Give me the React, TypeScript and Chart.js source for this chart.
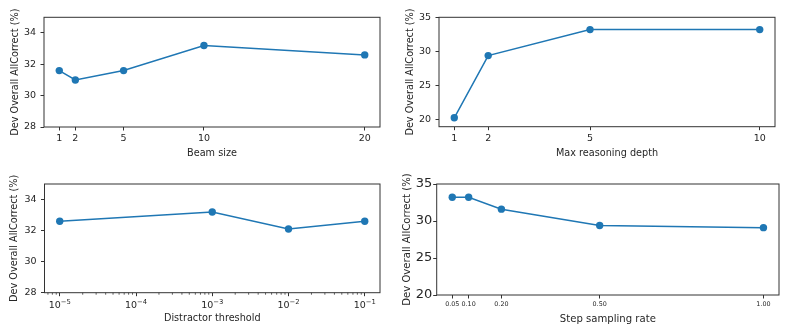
import React, { useEffect, useRef } from 'react';
import { Chart, registerables } from 'chart.js';

Chart.register(...registerables);

// ---- data ----
const beamSizes = [1, 2, 5, 10, 20];
const beamAcc = [31.6, 31.0, 31.6, 33.2, 32.6];

const depthValues = [1, 2, 5, 10];
const depthAcc = [20.3, 29.4, 33.2, 33.2];

const thresholdValues = [1e-5, 1e-3, 1e-2, 1e-1];
const thresholdAcc = [32.6, 33.2, 32.1, 32.6];

const rateValues = [0.05, 0.1, 0.2, 0.5, 1.0];
const rateAcc = [33.2, 33.2, 31.6, 29.4, 29.1];

// ---- tick labels ----
const beamTicks = [1, 2, 5, 10, 20];
const beamTickLabels = ['1', '2', '5', '10', '20'];
const depthTicks = [1, 2, 5, 10];
const depthTickLabels = ['1', '2', '5', '10'];
const thresholdTicks = [1e-5, 1e-4, 1e-3, 1e-2, 1e-1];
const thresholdTickLabels = ['10⁻⁵', '10⁻⁴', '10⁻³', '10⁻²', '10⁻¹'];
const thresholdExponents = ['−5', '−4', '−3', '−2', '−1'];
const rateTicks = [0.05, 0.1, 0.2, 0.5, 1.0];
const rateTickLabels = ['0.05', '0.10', '0.20', '0.50', '1.00'];
const yTicksFine = [28, 30, 32, 34];
const yTicksCoarse = [20, 25, 30, 35];

const yTitle = 'Dev Overall AllCorrect (%)';
const xTitles = ['Beam size', 'Max reasoning depth', 'Distractor threshold', 'Step sampling rate'];

const FONT = '"DejaVu Sans", sans-serif';
const LINE = '#1f77b4';
const INK = '#262626';
const SPINE = '#333333';

type Cfg = {
  left: number; top: number; width: number; height: number;
  area: { l: number; r: number; t: number; b: number };
  xType: 'linear' | 'logarithmic';
  xMin: number; xMax: number; xTicks: number[]; xLabels: string[];
  yMin: number; yMax: number; yTicks: number[];
  xs: number[]; ys: number[];
  xTitle: string;
  xTickSize: number; yTickSize: number; titleSize: number;
  xTickPad: number; yTickPad: number;
  xTitleBase: number; yTitleBase: number;
  minorLog?: boolean;
  powerLabels?: string[];
};

const panels: Cfg[] = [
  {
    left: 0, top: 0, width: 395, height: 165,
    area: { l: 44, r: 380, t: 17.3, b: 127 },
    xType: 'linear', xMin: 0.05, xMax: 20.95, xTicks: beamTicks, xLabels: beamTickLabels,
    yMin: 28, yMax: 35, yTicks: yTicksFine,
    xs: beamSizes, ys: beamAcc, xTitle: xTitles[0],
    xTickSize: 9.5, yTickSize: 9.5, titleSize: 9.7, xTickPad: 2.5, yTickPad: 4.5,
    xTitleBase: 156, yTitleBase: 17.7,
  },
  {
    left: 395, top: 0, width: 394, height: 165,
    area: { l: 44, r: 380, t: 17.3, b: 126.7 },
    xType: 'linear', xMin: 0.55, xMax: 10.45, xTicks: depthTicks, xLabels: depthTickLabels,
    yMin: 19, yMax: 35, yTicks: yTicksCoarse,
    xs: depthValues, ys: depthAcc, xTitle: xTitles[1],
    xTickSize: 9.5, yTickSize: 9.5, titleSize: 9.7, xTickPad: 2.5, yTickPad: 4.5,
    xTitleBase: 155.7, yTitleBase: 17.7,
  },
  {
    left: 0, top: 165, width: 395, height: 166,
    area: { l: 44.5, r: 380, t: 19, b: 127.7 },
    xType: 'logarithmic', xMin: Math.pow(10, -5.2), xMax: Math.pow(10, -0.8),
    xTicks: thresholdTicks, xLabels: thresholdTickLabels,
    yMin: 28, yMax: 35, yTicks: yTicksFine,
    xs: thresholdValues, ys: thresholdAcc, xTitle: xTitles[2],
    xTickSize: 9.5, yTickSize: 9.5, titleSize: 9.7, xTickPad: 2.5, yTickPad: 4.5,
    xTitleBase: 156, yTitleBase: 17.3, minorLog: true, powerLabels: thresholdExponents,
  },
  {
    left: 395, top: 165, width: 394, height: 166,
    area: { l: 41.7, r: 384, t: 19, b: 130 },
    xType: 'linear', xMin: 0.0025, xMax: 1.0475, xTicks: rateTicks, xLabels: rateTickLabels,
    yMin: 20, yMax: 35, yTicks: yTicksCoarse,
    xs: rateValues, ys: rateAcc, xTitle: xTitles[3],
    xTickSize: 6.4, yTickSize: 13, titleSize: 10.1, xTickPad: 2.2, yTickPad: 1,
    xTitleBase: 156.7, yTitleBase: 15.3,
  },
];

function Panel({ cfg }: { cfg: Cfg }) {
  const ref = useRef<HTMLCanvasElement | null>(null);
  useEffect(() => {
    const c = cfg;
    const deco = {
      id: 'deco',
      afterDraw(chart: any) {
        const { ctx, chartArea: a } = chart;
        const xs = chart.scales.x;
        ctx.save();
        ctx.strokeStyle = SPINE;
        ctx.lineWidth = 1;
        ctx.strokeRect(a.left, a.top, a.right - a.left, a.bottom - a.top);
        if (c.minorLog) {
          ctx.lineWidth = 0.8;
          for (let k = -7; k <= 0; k++) {
            for (let m = 2; m <= 9; m++) {
              const v = m * Math.pow(10, k);
              if (v < xs.min || v > xs.max) continue;
              const px = xs.getPixelForValue(v);
              ctx.beginPath();
              ctx.moveTo(px, a.bottom);
              ctx.lineTo(px, a.bottom + 2);
              ctx.stroke();
            }
          }
        }
        ctx.fillStyle = INK;
        // base-10 power labels with raised exponents
        if (c.powerLabels) {
          const baseSize = c.xTickSize;
          const supSize = 6.8;
          const baseY = a.bottom + 15;
          c.xTicks.forEach((v, i) => {
            const px = xs.getPixelForValue(v);
            ctx.font = `${baseSize}px ${FONT}`;
            const w1 = ctx.measureText('10').width;
            ctx.font = `${supSize}px ${FONT}`;
            const w2 = ctx.measureText(c.powerLabels![i]).width;
            const x0 = px - (w1 + w2) / 2;
            ctx.textAlign = 'left';
            ctx.textBaseline = 'alphabetic';
            ctx.font = `${baseSize}px ${FONT}`;
            ctx.fillText('10', x0, baseY);
            ctx.font = `${supSize}px ${FONT}`;
            ctx.fillText(c.powerLabels![i], x0 + w1, baseY - 4);
          });
        }
        ctx.font = `${c.titleSize}px ${FONT}`;
        ctx.textAlign = 'center';
        ctx.textBaseline = 'alphabetic';
        ctx.fillText(c.xTitle, (a.left + a.right) / 2, c.xTitleBase);
        ctx.translate(c.yTitleBase, (a.top + a.bottom) / 2);
        ctx.rotate(-Math.PI / 2);
        ctx.fillText(yTitle, 0, 0);
        ctx.restore();
      },
    };
    const chart = new Chart(ref.current as HTMLCanvasElement, {
      type: 'line',
      data: {
        datasets: [
          {
            data: c.xs.map((x, i) => ({ x, y: c.ys[i] })),
            borderColor: LINE,
            backgroundColor: LINE,
            borderWidth: 1.5,
            pointRadius: 3.7,
            pointBorderWidth: 0,
            pointHoverRadius: 3.7,
            tension: 0,
          },
        ],
      },
      options: {
        animation: false,
        responsive: false,
        devicePixelRatio: 1,
        events: [],
        layout: { padding: { left: 0, top: c.area.t, right: c.width - c.area.r, bottom: 0 } },
        plugins: { legend: { display: false }, tooltip: { enabled: false } },
        scales: {
          x: {
            type: c.xType,
            min: c.xMin,
            max: c.xMax,
            bounds: 'data',
            afterBuildTicks: (s: any) => {
              s.ticks = c.xTicks.map((v) => ({ value: v }));
            },
            afterFit: (s: any) => {
              s.height = c.height - c.area.b;
            },
            grid: { display: true, drawOnChartArea: false, drawTicks: true, tickLength: 3.5, tickColor: SPINE, tickWidth: 1 },
            border: { display: false },
            ticks: {
              autoSkip: false,
              maxRotation: 0,
              minRotation: 0,
              padding: c.xTickPad,
              color: INK,
              font: { family: FONT, size: c.xTickSize },
              callback: (_v: any, i: number) => (c.powerLabels ? '' : c.xLabels[i]),
            },
          },
          y: {
            type: 'linear',
            min: c.yMin,
            max: c.yMax,
            bounds: 'data',
            afterBuildTicks: (s: any) => {
              s.ticks = c.yTicks.map((v) => ({ value: v }));
            },
            afterFit: (s: any) => {
              s.width = c.area.l;
            },
            grid: { display: true, drawOnChartArea: false, drawTicks: true, tickLength: 3.5, tickColor: SPINE, tickWidth: 1 },
            border: { display: false },
            ticks: {
              padding: c.yTickPad,
              color: INK,
              font: { family: FONT, size: c.yTickSize },
              callback: (v: any) => String(v),
            },
          },
        },
      } as any,
      plugins: [deco],
    });
    return () => chart.destroy();
  }, [cfg]);
  return (
    <canvas
      ref={ref}
      width={cfg.width}
      height={cfg.height}
      style={{ position: 'absolute', left: cfg.left, top: cfg.top, width: cfg.width, height: cfg.height, display: 'block' }}
    />
  );
}

export default function App() {
  useEffect(() => {
    document.body.style.margin = '0';
    document.body.style.background = '#ffffff';
  }, []);
  return (
    <div style={{ position: 'relative', width: 789, height: 331, background: '#fff', overflow: 'hidden' }}>
      {panels.map((p, i) => (
        <Panel key={i} cfg={p} />
      ))}
    </div>
  );
}
